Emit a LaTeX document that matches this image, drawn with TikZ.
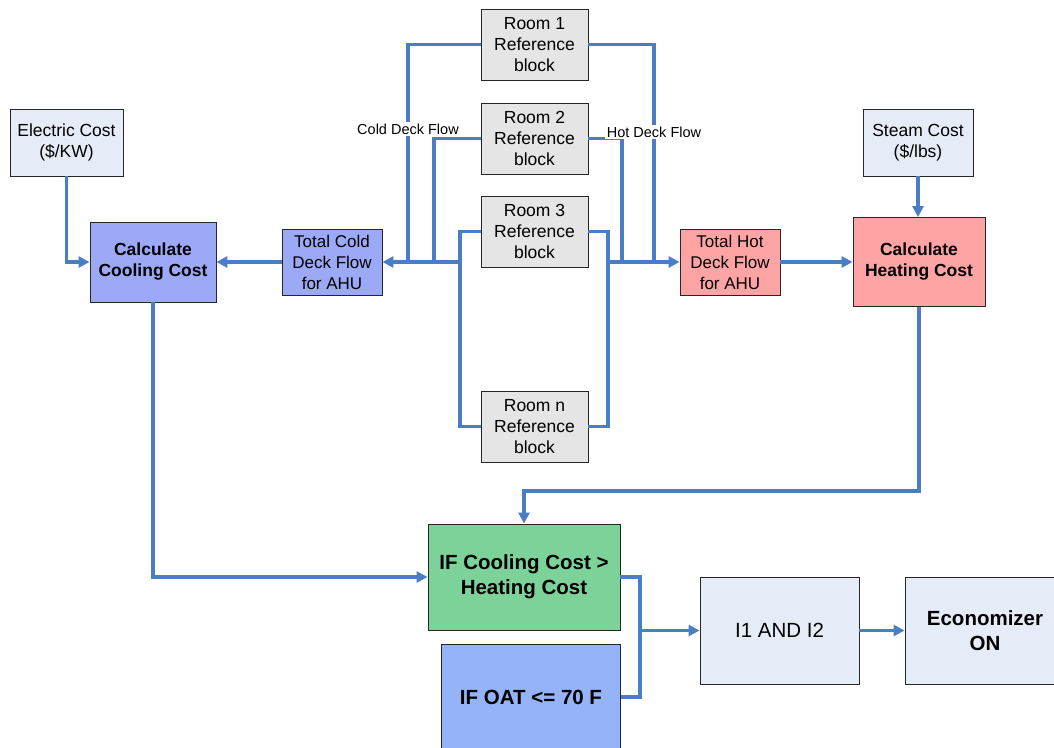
\documentclass[tikz,border=0pt]{standalone}
\usepackage{fontspec}
\setmainfont{Liberation Sans}
\usetikzlibrary{arrows.meta}
\definecolor{lineblue}{HTML}{4A7EC4}
\definecolor{lightbox}{HTML}{E6ECF7}
\definecolor{roomgray}{HTML}{E5E5E5}
\definecolor{coolblue}{HTML}{9BA9F6}
\definecolor{hotred}{HTML}{FFA4A4}
\definecolor{okgreen}{HTML}{7CD298}
\definecolor{oatblue}{HTML}{95B3F8}
\begin{document}
\begin{tikzpicture}[x=1pt,y=-1pt,
  box/.style={draw=black!85, line width=0.9pt, inner sep=0pt, align=center,
    font=\fontsize{17.5}{21}\selectfont},
  bbox/.style={box, font=\fontsize{17.5}{21}\selectfont\bfseries},
  big/.style={box, font=\fontsize{20.5}{25}\selectfont},
  bigb/.style={box, font=\fontsize{20.5}{25}\selectfont\bfseries},
  line/.style={draw=lineblue, line width=3.3pt},
  flow/.style={line, -{Triangle[length=11pt,width=11pt]}},
  lbl/.style={fill=white, inner sep=1.5pt, font=\fontsize{14.5}{17}\selectfont}]
\useasboundingbox (0,0) rectangle (1054,747);
\clip (0,0) rectangle (1054,747);
\fill[white] (0,0) rectangle (1054,747);

% nodes
\node[box, fill=lightbox, minimum width=113, minimum height=67] (elec) at (66.5,142.5) {Electric Cost\\(\$/KW)};
\node[bbox, fill=coolblue, minimum width=126, minimum height=80] (cool) at (153,262) {Calculate\\Cooling Cost};
\node[box, fill=coolblue, minimum width=100, minimum height=66, font=\fontsize{17}{21}\selectfont] (tcold) at (332,262) {Total Cold\\Deck Flow\\for AHU};
\node[box, fill=roomgray, minimum width=107, minimum height=71] (r1) at (534.5,44.5) {Room 1\\Reference\\block};
\node[box, fill=roomgray, minimum width=107, minimum height=71] (r2) at (534.5,138.5) {Room 2\\Reference\\block};
\node[box, fill=roomgray, minimum width=107, minimum height=71] (r3) at (534.5,231.5) {Room 3\\Reference\\block};
\node[box, fill=roomgray, minimum width=107, minimum height=71] (rn) at (534.5,426.5) {Room n\\Reference\\block};
\node[box, fill=hotred, minimum width=100, minimum height=66, font=\fontsize{17}{21}\selectfont] (thot) at (730,262) {Total Hot\\Deck Flow\\for AHU};
\node[bbox, fill=hotred, minimum width=132, minimum height=89] (heat) at (919,262) {Calculate\\Heating Cost};
\node[box, fill=lightbox, minimum width=110, minimum height=67] (steam) at (918,142.5) {Steam Cost\\(\$/lbs)};
\node[bigb, fill=okgreen, minimum width=192, minimum height=106] (ifc) at (524,577) {IF Cooling Cost >\\Heating Cost};
\node[bigb, fill=oatblue, minimum width=179, minimum height=106] (oat) at (531,697) {IF OAT <= 70 F};
\node[big, fill=lightbox, minimum width=159, minimum height=107] (and) at (779.5,630.5) {I1 AND I2};
\node[bigb, fill=lightbox, minimum width=160, minimum height=107] (econ) at (985,630.5) {Economizer\\ON};

% junction coordinates
\coordinate (c1) at (408,262);
\coordinate (c2) at (434,262);
\coordinate (c3) at (460,262);
\coordinate (h1) at (654,262);
\coordinate (h2) at (622,262);
\coordinate (h3) at (608,262);
\coordinate (j) at (640,630.5);

% connectors
\draw[flow] (elec.south) |- (cool.west);
\draw[flow] (tcold.west) -- (cool.east);
\draw[line] (r1.west) -| (c1);
\draw[line] (r2.west) -| (c2);
\draw[line] (r3.west) -| (c3) |- (rn.west);
\draw[flow] (c3) -- (tcold.east);
\draw[line] (r1.east) -| (h1);
\draw[line] (r2.east) -| (h2);
\draw[line] (r3.east) -| (h3) |- (rn.east);
\draw[flow] (h3) -- (thot.west);
\draw[flow] (thot.east) -- (heat.west);
\draw[flow] (steam.south) -- (steam.south |- heat.north);
\draw[flow] (heat.south) -- ++(0,184) -| (ifc.north);
\draw[flow] (cool.south) |- (ifc.west);
\draw[line] (ifc.east) -| (j) |- (oat.east);
\draw[flow] (j) -- (and.west);
\draw[flow] (and.east) -- (econ.west);

% labels
\node[lbl] (cdf) at (408,129) {Cold Deck Flow};
\node[lbl] (hdf) at (654,132) {Hot Deck Flow};
\end{tikzpicture}
\end{document}
